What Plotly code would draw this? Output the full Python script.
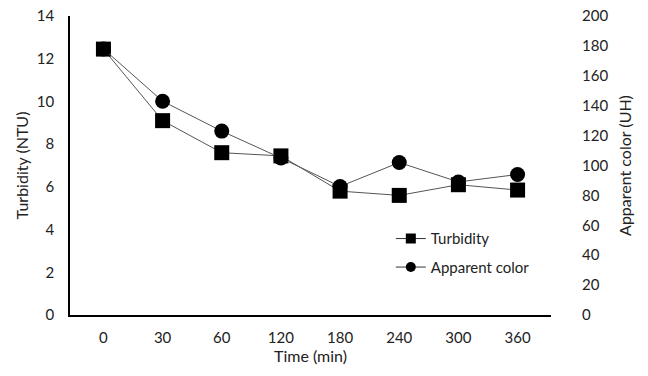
import plotly.graph_objects as go

time_labels = ["0", "30", "60", "120", "180", "240", "300", "360"]
turbidity = [12.45, 9.1, 7.6, 7.45, 5.8, 5.6, 6.1, 5.85]
apparent_color = [178, 143, 123, 105, 86, 102, 89, 94]

font_family = "Lato"
line_col = "#555555"

fig = go.Figure()
fig.add_trace(go.Scatter(
    x=time_labels, y=apparent_color, name="Apparent color", yaxis="y2",
    mode="lines+markers", showlegend=False,
    line=dict(color=line_col, width=1),
    marker=dict(symbol="circle", size=15, color="black"),
))
fig.add_trace(go.Scatter(
    x=time_labels, y=turbidity, name="Turbidity",
    mode="lines+markers", showlegend=False,
    line=dict(color=line_col, width=1),
    marker=dict(symbol="square", size=15, color="black"),
))
# legend entries (smaller symbols, like the reference legend)
fig.add_trace(go.Scatter(
    x=[None], y=[None], name="Turbidity", mode="lines+markers",
    legendgroup="a", line=dict(color="#333333", width=1),
    marker=dict(symbol="square", size=10, color="black"),
))
fig.add_trace(go.Scatter(
    x=[None], y=[None], name="Apparent color", mode="lines+markers",
    legendgroup="b", line=dict(color="#333333", width=1),
    marker=dict(symbol="circle", size=10, color="black"),
))

fig.update_layout(
    width=648, height=376,
    margin=dict(l=70, r=97, t=16, b=61),
    paper_bgcolor="white", plot_bgcolor="white",
    font=dict(family=font_family, size=15, color="#222222"),
    showlegend=True,
    legend=dict(x=0.667, y=0.31, xanchor="left", yanchor="top",
                bgcolor="rgba(0,0,0,0)", font=dict(size=15),
                tracegroupgap=6, itemwidth=30, traceorder="grouped"),
    xaxis=dict(type="category", showline=True, linecolor="black", linewidth=1.5,
               showgrid=False, ticks="outside", ticklen=8, tickcolor="rgba(0,0,0,0)",
               zeroline=False, automargin=False,
               title=dict(text="Time (min)", font=dict(size=16), standoff=4)),
    yaxis=dict(range=[0, 14], dtick=2, showline=True, linecolor="black", linewidth=1.5,
               showgrid=False, ticks="outside", ticklen=11, tickcolor="rgba(0,0,0,0)",
               zeroline=False, automargin=False, ticklabeloverflow="allow",
               title=dict(text="Turbidity (NTU)", font=dict(size=16), standoff=4)),
    yaxis2=dict(range=[0, 200], dtick=20, overlaying="y", side="right",
                showline=False, showgrid=False, ticks="outside", ticklen=27,
                tickcolor="rgba(0,0,0,0)", zeroline=False, automargin=False,
                ticklabeloverflow="allow",
                title=dict(text="Apparent color (UH)", font=dict(size=16), standoff=12)),
)

fig.write_html("out.html", config={"displayModeBar": False},
               post_script="document.body.style.margin='0';")
